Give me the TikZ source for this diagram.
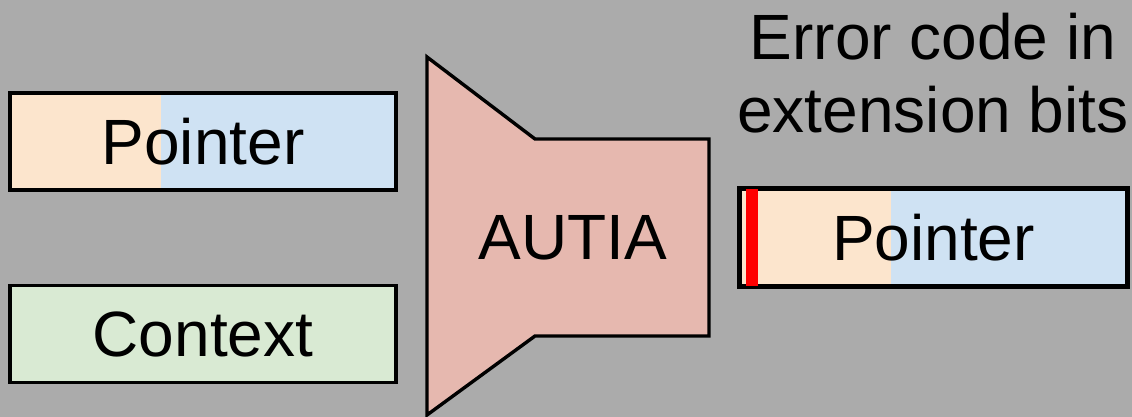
\documentclass[tikz,border=0pt]{standalone}
\usepackage{fontspec}
\setmainfont{Liberation Sans}
\usetikzlibrary{positioning}

\definecolor{bggray}{HTML}{ABABAB}
\definecolor{ptrpeach}{HTML}{FCE5CD}
\definecolor{ptrblue}{HTML}{CFE2F3}
\definecolor{ctxgreen}{HTML}{D9EAD3}
\definecolor{authred}{HTML}{E6B8AF}
\definecolor{errred}{HTML}{FF0000}

\begin{document}
\begin{tikzpicture}[
    x=0.5pt, y=-0.5pt,
    font=\fontsize{32}{36.5}\selectfont,
    field/.style={draw, line width=1.7pt, inner sep=0pt, minimum width=193pt, minimum height=48.5pt},
    ptrbox/.style={field, fill=ptrblue,
      path picture={\fill[ptrpeach] (path picture bounding box.south west) rectangle ([xshift=75.5pt]path picture bounding box.north west);}},
    ctxbox/.style={field, fill=ctxgreen}
  ]
    % background
    \fill[bggray] (0,0) rectangle (1132,417);
    \useasboundingbox (0,0) rectangle (1132,417);

    % inputs
    \node[ptrbox] (ptr) at (203,141.5) {Pointer};
    \node[ctxbox] (ctx) at (203,334) {Context};

    % AUTIA unit
    \draw[line width=1.7pt, fill=authred, line join=miter]
      (427,57) -- (535,139) -- (709,139) -- (709,336) -- (535,336) -- (427,415) -- cycle;
    \node (autia) at (573,238) {AUTIA};

    % output pointer with error bits
    \node[ptrbox, minimum width=193.5pt] (out) at (933.5,237.5) {Pointer};
    \fill[errred] ([xshift=4pt,yshift=-0.85pt]out.north west) rectangle ([xshift=10pt,yshift=0.85pt]out.south west);
    \draw[line width=1.7pt] (out.north west) rectangle (out.south east);

    \node[align=center] (err) at (933,73) {Error code in\\extension bits};
  \end{tikzpicture}
\end{document}
